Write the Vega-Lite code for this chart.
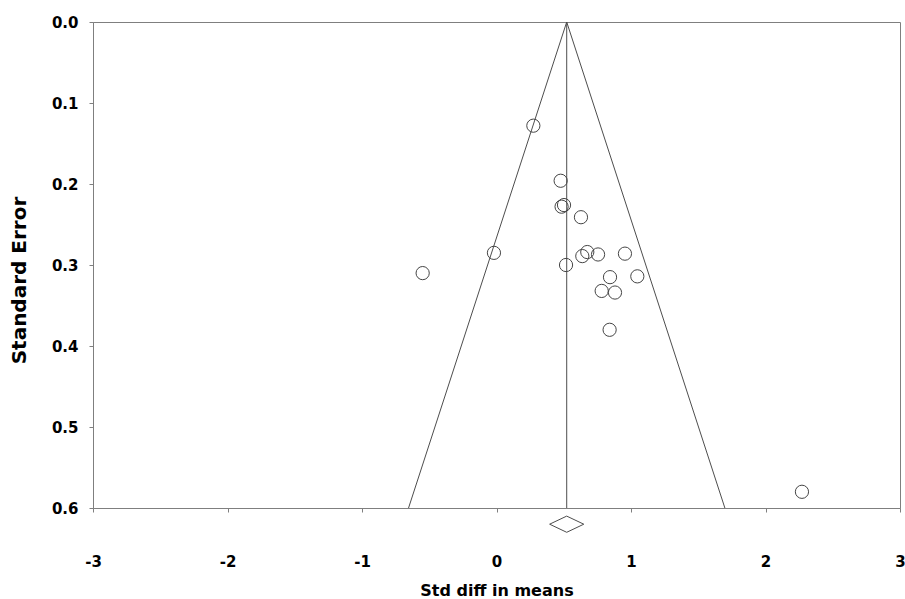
{
  "$schema": "https://vega.github.io/schema/vega-lite/v6.json",
  "width": 807,
  "height": 486,
  "autosize": {"type": "none"},
  "padding": {"left": 93, "top": 22, "right": 5, "bottom": 91},
  "background": "white",
  "config": {
    "view": {"stroke": "#7f7f7f", "strokeWidth": 1},
    "font": "DejaVu Sans"
  },
  "datasets": {
    "studies": [
      {"x": 0.274, "se": 0.128},
      {"x": 0.477, "se": 0.196},
      {"x": 0.484, "se": 0.228},
      {"x": 0.502, "se": 0.226},
      {"x": 0.628, "se": 0.241},
      {"x": -0.019, "se": 0.285},
      {"x": -0.549, "se": 0.310},
      {"x": 0.517, "se": 0.300},
      {"x": 0.638, "se": 0.289},
      {"x": 0.675, "se": 0.284},
      {"x": 0.755, "se": 0.287},
      {"x": 0.955, "se": 0.286},
      {"x": 1.047, "se": 0.314},
      {"x": 0.844, "se": 0.315},
      {"x": 0.782, "se": 0.332},
      {"x": 0.881, "se": 0.334},
      {"x": 0.841, "se": 0.380},
      {"x": 2.271, "se": 0.580}
    ],
    "funnel": [
      {"x": -0.654, "se": 0.6, "ord": 1},
      {"x": 0.522, "se": 0.0, "ord": 2},
      {"x": 1.698, "se": 0.6, "ord": 3}
    ],
    "pooled": [
      {"x": 0.522, "se": 0.0, "se2": 0.6}
    ],
    "diamond": [
      {"x": 0.395, "se": 0.620, "ord": 1},
      {"x": 0.522, "se": 0.610, "ord": 2},
      {"x": 0.649, "se": 0.620, "ord": 3},
      {"x": 0.522, "se": 0.630, "ord": 4},
      {"x": 0.395, "se": 0.620, "ord": 5}
    ]
  },
  "encoding": {
    "x": {
      "field": "x",
      "type": "quantitative",
      "scale": {"domain": [-3, 3], "nice": false, "zero": false},
      "axis": {
        "title": "Std diff in means",
        "values": [-3, -2, -1, 0, 1, 2, 3],
        "labelExpr": "'' + datum.value",
        "grid": false,
        "domainColor": "#7f7f7f",
        "tickColor": "#7f7f7f",
        "tickSize": 4,
        "labelPadding": 42,
        "labelFlush": false,
        "labelOverlap": false,
        "labelFont": "DejaVu Sans",
        "labelFontWeight": "bold",
        "labelFontSize": 15,
        "labelColor": "black",
        "titleFont": "DejaVu Sans",
        "titleFontWeight": "bold",
        "titleFontSize": 16,
        "titleColor": "black",
        "titleY": 87,
        "titleBaseline": "alphabetic"
      }
    },
    "y": {
      "field": "se",
      "type": "quantitative",
      "scale": {"domain": [0, 0.6], "reverse": true, "nice": false, "zero": false},
      "axis": {
        "title": "Standard Error",
        "values": [0, 0.1, 0.2, 0.3, 0.4, 0.5, 0.6],
        "format": ".1f",
        "grid": false,
        "domainColor": "#7f7f7f",
        "tickColor": "#7f7f7f",
        "tickSize": 4,
        "labelPadding": 11,
        "labelFlush": false,
        "labelOverlap": false,
        "labelFont": "DejaVu Sans",
        "labelFontWeight": "bold",
        "labelFontSize": 15,
        "labelColor": "black",
        "titleFont": "DejaVu Sans",
        "titleFontWeight": "bold",
        "titleFontSize": 20,
        "titleColor": "black",
        "titleAngle": -90,
        "titleX": -68,
        "titleY": 258,
        "titleAlign": "center",
        "titleBaseline": "alphabetic"
      }
    }
  },
  "layer": [
    {
      "data": {"name": "funnel"},
      "mark": {"type": "line", "color": "#4d4d4d", "strokeWidth": 1},
      "encoding": {"order": {"field": "ord", "type": "quantitative"}}
    },
    {
      "data": {"name": "pooled"},
      "mark": {"type": "rule", "color": "#4d4d4d", "strokeWidth": 1},
      "encoding": {"y2": {"field": "se2"}}
    },
    {
      "data": {"name": "diamond"},
      "mark": {"type": "line", "color": "#4d4d4d", "strokeWidth": 1, "clip": false},
      "encoding": {"order": {"field": "ord", "type": "quantitative"}}
    },
    {
      "data": {"name": "studies"},
      "mark": {"type": "point", "shape": "circle", "filled": false, "size": 175, "stroke": "#454545", "strokeWidth": 1, "opacity": 1}
    }
  ]
}
